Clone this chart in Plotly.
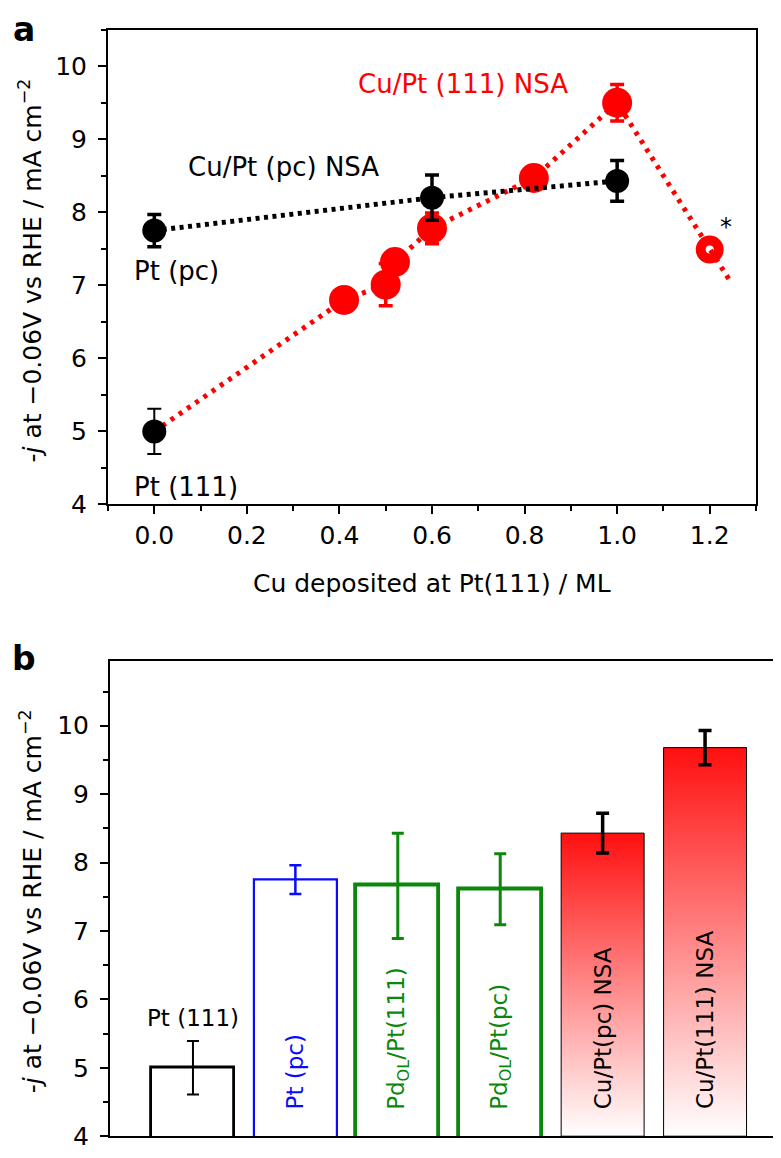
import plotly.graph_objects as go

# ---------------- Panel a data ----------------
pc_x = [0.0, 0.6, 1.0]                      # Cu/Pt (pc) NSA (black)
pc_y = [7.75, 8.20, 8.43]
pc_err = [0.22, 0.31, 0.28]

pt111_x = [0.0]                             # Pt (111) start point (black)
pt111_y = [5.00]
pt111_err = [0.31]

nsa111_x = [0.41, 0.50, 0.52, 0.60, 0.82, 1.00]   # Cu/Pt (111) NSA (red)
nsa111_y = [6.80, 7.01, 7.32, 7.78, 8.47, 9.50]
nsa111_err = [0.10, 0.29, 0.15, 0.21, 0.15, 0.25]

open_x = [1.20]                              # open red point (*)
open_y = [7.49]

trend111_x = [0.0, 0.41, 0.50, 0.52, 0.60, 0.82, 1.00, 1.20, 1.245]
trend111_y = [5.00, 6.80, 7.01, 7.32, 7.78, 8.47, 9.50, 7.49, 7.05]

# ---------------- Panel b data ----------------
bar_labels = ["Pt (111)", "Pt (pc)", "Pd<sub>OL</sub>/Pt(111)", "Pd<sub>OL</sub>/Pt(pc)",
              "Cu/Pt(pc) NSA", "Cu/Pt(111) NSA"]
bar_values = [5.00, 7.75, 7.66, 7.61, 8.43, 9.68]
bar_errors = [0.39, 0.21, 0.77, 0.52, 0.29, 0.25]

# ---------------- style ----------------
W, H = 781, 1158
FONT = "DejaVu Sans"
RED = "#ff0000"
BLUE = "#0a0aff"
GREEN = "#0b870b"
BAR_W = 0.81

def px(xp):
    return xp / W

def py(yp):
    return 1 - yp / H

fig = go.Figure()

# ---- panel a traces ----
fig.add_trace(go.Scatter(x=trend111_x, y=trend111_y, mode="lines",
                         line=dict(color=RED, width=5, dash="4px,6px"),
                         xaxis="x", yaxis="y", showlegend=False, hoverinfo="skip"))
fig.add_trace(go.Scatter(x=nsa111_x, y=nsa111_y, mode="markers",
                         marker=dict(color=RED, size=30, line=dict(width=0)),
                         error_y=dict(type="data", array=nsa111_err, color=RED, thickness=3.5, width=7),
                         xaxis="x", yaxis="y", showlegend=False))
fig.add_trace(go.Scatter(x=open_x, y=open_y, mode="markers",
                         marker=dict(symbol="circle-open", color=RED, size=18, line=dict(color=RED, width=10)),
                         xaxis="x", yaxis="y", showlegend=False))
fig.add_trace(go.Scatter(x=pc_x, y=pc_y, mode="lines+markers",
                         line=dict(color="black", width=5, dash="4px,4.5px"),
                         marker=dict(color="black", size=24),
                         error_y=dict(type="data", array=pc_err, color="black", thickness=3.5, width=7),
                         xaxis="x", yaxis="y", showlegend=False))
fig.add_trace(go.Scatter(x=pt111_x, y=pt111_y, mode="markers",
                         marker=dict(color="black", size=24),
                         error_y=dict(type="data", array=pt111_err, color="black", thickness=2, width=7),
                         xaxis="x", yaxis="y", showlegend=False))

# ---- panel b traces ----
outline_styles = [("black", 2.8, 2.0), (BLUE, 2.2, 2.5), (GREEN, 3.8, 3.0), (GREEN, 3.8, 3.0)]
for i in range(4):
    col, lw, et = outline_styles[i]
    fig.add_trace(go.Bar(x=[i], y=[bar_values[i]], width=BAR_W,
                         marker=dict(color="white", line=dict(color=col, width=lw)),
                         error_y=dict(type="data", array=[bar_errors[i]], color=col, thickness=et, width=6),
                         xaxis="x2", yaxis="y2", showlegend=False))

ybase = 4.0
for i in range(4, 6):
    x0, x1 = i - BAR_W / 2, i + BAR_W / 2
    v = bar_values[i]
    fig.add_trace(go.Scatter(x=[x0, x1, x1, x0, x0], y=[ybase, ybase, v, v, ybase],
                             mode="lines", fill="toself",
                             fillgradient=dict(type="vertical",
                                               colorscale=[[0, "#ffffff"], [1, "#ff1010"]]),
                             line=dict(color="black", width=1),
                             xaxis="x2", yaxis="y2", showlegend=False, hoverinfo="skip"))
fig.add_trace(go.Scatter(x=[4, 5], y=bar_values[4:6], mode="markers",
                         marker=dict(size=1, color="rgba(0,0,0,0)"),
                         error_y=dict(type="data", array=bar_errors[4:6], color="black", thickness=3.5, width=6.5),
                         xaxis="x2", yaxis="y2", showlegend=False))

# ---------------- axes ----------------
tickfont = dict(family=FONT, size=25, color="black")
common = dict(showline=True, linecolor="black", linewidth=2, mirror=True,
              showgrid=False, zeroline=False, ticks="outside", ticklen=8,
              tickwidth=2, tickcolor="black", tickfont=tickfont)

fig.update_layout(
    width=W, height=H,
    margin=dict(l=0, r=0, t=0, b=0),
    paper_bgcolor="white", plot_bgcolor="white",
    bargap=0,
    xaxis=dict(domain=[px(100), px(748)], range=[-0.1, 1.3], anchor="y",
               tick0=0, dtick=0.2, tickformat=".1f",
               minor=dict(ticks="outside", ticklen=5, tickwidth=2, tickcolor="black", dtick=0.1, tick0=0),
               **common),
    yaxis=dict(domain=[py(503), py(22)], range=[4, 10.5], anchor="x",
               tick0=4, dtick=1, ticklabelstandoff=6,
               minor=dict(ticks="outside", ticklen=5, tickwidth=2, tickcolor="black", dtick=0.5, tick0=4),
               **common),
    xaxis2=dict(domain=[px(102), px(779)], range=[-0.81, 5.80], anchor="y2",
                showline=True, linecolor="black", linewidth=2, mirror=True,
                showgrid=False, zeroline=False, ticks="", showticklabels=False),
    yaxis2=dict(domain=[py(1143), py(662)], range=[4, 10.94], anchor="x2",
                tick0=4, dtick=1, ticklabelstandoff=6,
                minor=dict(ticks="outside", ticklen=5, tickwidth=2, tickcolor="black", dtick=0.5, tick0=4),
                **common),
)

ytitle = "-<i>j</i> at \u22120.06V vs RHE / mA cm<sup>\u22122</sup>"
C = dict(xanchor="center", yanchor="middle", showarrow=False)
ann = []
# axis titles
ann.append(dict(text=ytitle, x=px(23), y=py(266), xref="paper", yref="paper", textangle=-90,
                font=dict(family=FONT, size=25, color="black"), **C))
ann.append(dict(text=ytitle, x=px(23), y=py(905), xref="paper", yref="paper", textangle=-90,
                font=dict(family=FONT, size=25, color="black"), **C))
ann.append(dict(text="Cu deposited at Pt(111) / ML", x=px(424), y=py(583), xref="paper", yref="paper",
                font=dict(family=FONT, size=25, color="black"), **C))
# panel letters
ann.append(dict(text="<b>a</b>", x=px(16), y=py(22), xref="paper", yref="paper",
                font=dict(family=FONT, size=33, color="black"), **C))
ann.append(dict(text="<b>b</b>", x=px(16), y=py(659), xref="paper", yref="paper",
                font=dict(family=FONT, size=33, color="black"), **C))
# panel a labels
ann.append(dict(text="Cu/Pt (111) NSA", x=0.666, y=9.76, xref="x", yref="y",
                font=dict(family=FONT, size=26, color=RED), **C))
ann.append(dict(text="Cu/Pt (pc) NSA", x=0.28, y=8.62, xref="x", yref="y",
                font=dict(family=FONT, size=26, color="black"), **C))
ann.append(dict(text="Pt (pc)", x=0.048, y=7.19, xref="x", yref="y",
                font=dict(family=FONT, size=26, color="black"), **C))
ann.append(dict(text="Pt (111)", x=0.069, y=4.24, xref="x", yref="y",
                font=dict(family=FONT, size=26, color="black"), **C))
ann.append(dict(text="*", x=1.235, y=7.80, xref="x", yref="y",
                font=dict(family=FONT, size=24, color="black"), **C))
# panel b labels
ann.append(dict(text=bar_labels[0], x=0, y=5.73, xref="x2", yref="y2",
                font=dict(family=FONT, size=23, color="black"), **C))
label_colors = [None, BLUE, GREEN, GREEN, "black", "black"]
for i in range(1, 6):
    ann.append(dict(text=bar_labels[i], x=i, y=4.36, xref="x2", yref="y2", showarrow=False,
                    textangle=-90, xanchor="center", yanchor="bottom",
                    font=dict(family=FONT, size=23, color=label_colors[i])))

fig.update_layout(annotations=ann)
fig.write_html("out.html")
